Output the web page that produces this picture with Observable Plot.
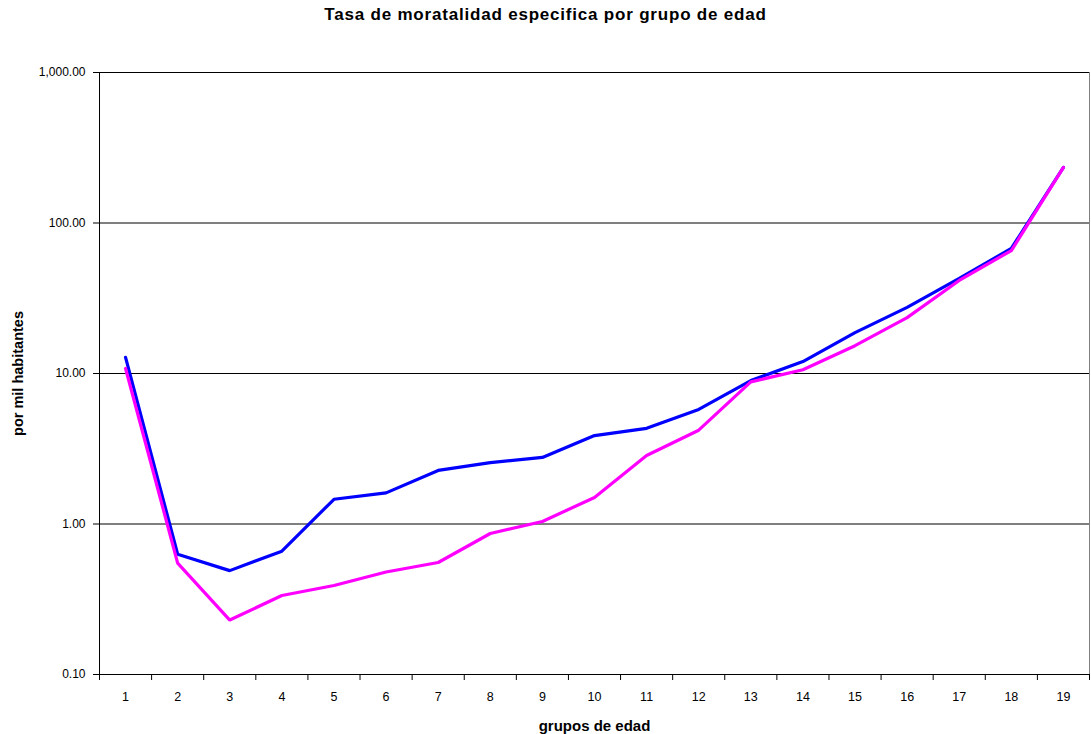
<!DOCTYPE html>
<html>
<head>
<meta charset="utf-8">
<script src="https://cdn.jsdelivr.net/npm/d3@7"></script>
<script src="https://cdn.jsdelivr.net/npm/@observablehq/plot@0.6"></script>
<style>
  html, body { margin: 0; padding: 0; background: #fff; }
  #wrap { position: relative; width: 1091px; height: 734px; font-family: "Liberation Sans", Arial, sans-serif; }
  #title { position: absolute; top: 5px; left: 0; width: 1091px; text-align: center; font-weight: bold; font-size: 17px; line-height: 20px; letter-spacing: 0.8px; color: #000; }
  #chart { position: absolute; top: 0; left: 0; }
  #chart svg g[aria-label*="y-axis"] text { font-size: 12px !important; }
  #chart svg g[aria-label*="x-axis"] text { font-size: 12.5px !important; }
</style>
</head>
<body>
<div id="wrap">
  <div id="chart"></div>
  <div id="title">Tasa de moratalidad especifica por grupo de edad</div>
</div>
<script>
const grupos = [1,2,3,4,5,6,7,8,9,10,11,12,13,14,15,16,17,18,19];
const serieAzul = [12.8,0.63,0.49,0.66,1.46,1.61,2.27,2.56,2.77,3.87,4.32,5.77,8.97,12.0,18.7,27.5,42.8,67.8,234];
const serieRosa = [10.8,0.55,0.23,0.335,0.39,0.48,0.555,0.865,1.04,1.50,2.85,4.2,8.8,10.6,15.3,23.5,41.5,65.6,234];
const yTicks = [0.1, 1, 10, 100, 1000];
const gridLines = [1, 10, 100, 1000];

const azul = grupos.map((g, i) => ({g, v: serieAzul[i]}));
const rosa = grupos.map((g, i) => ({g, v: serieRosa[i]}));
const limites = [...grupos.map(g => g - 0.5), grupos[grupos.length - 1] + 0.5];

const chart = Plot.plot({
  width: 1091,
  height: 734,
  marginLeft: 99,
  marginRight: 2,
  marginTop: 72,
  marginBottom: 60,
  style: {fontFamily: "'Liberation Sans', Arial, sans-serif", fontSize: "12px", color: "#000", background: "#fff"},
  x: {type: "linear", domain: [0.5, 19.5]},
  y: {type: "log", domain: [0.1, 1000]},
  marks: [
    Plot.ruleY(gridLines, {stroke: "#000", strokeWidth: 1}),
    Plot.ruleX([19.5], {stroke: "#808080", strokeWidth: 1}),
    Plot.line(azul, {x: "g", y: "v", stroke: "#0000FF", strokeWidth: 3.2, strokeLinejoin: "miter"}),
    Plot.line(rosa, {x: "g", y: "v", stroke: "#FF00FF", strokeWidth: 3.2, strokeLinejoin: "miter"}),
    Plot.axisY({ticks: yTicks, tickFormat: d3.format(",.2f"), tickSize: 6, tickPadding: 8, fontSize: 12, label: null}),
    Plot.ruleX([0.5], {stroke: "#000", strokeWidth: 1}),
    Plot.ruleY([0.1], {stroke: "#000", strokeWidth: 1}),
    Plot.axisX({ticks: limites, tickFormat: () => "", tickSize: 6, label: null}),
    Plot.axisX({ticks: grupos, tickFormat: d3.format("d"), tickSize: 0, tickPadding: 18, fontSize: 12.5, label: null}),
    Plot.text(["grupos de edad"], {frameAnchor: "bottom", dy: 56, fontWeight: "bold", fontSize: 15}),
    Plot.text(["por mil habitantes"], {frameAnchor: "left", textAnchor: "middle", dx: -81, rotate: -90, fontWeight: "bold", fontSize: 14.5})
  ]
});
document.getElementById("chart").appendChild(chart);
</script>
</body>
</html>
